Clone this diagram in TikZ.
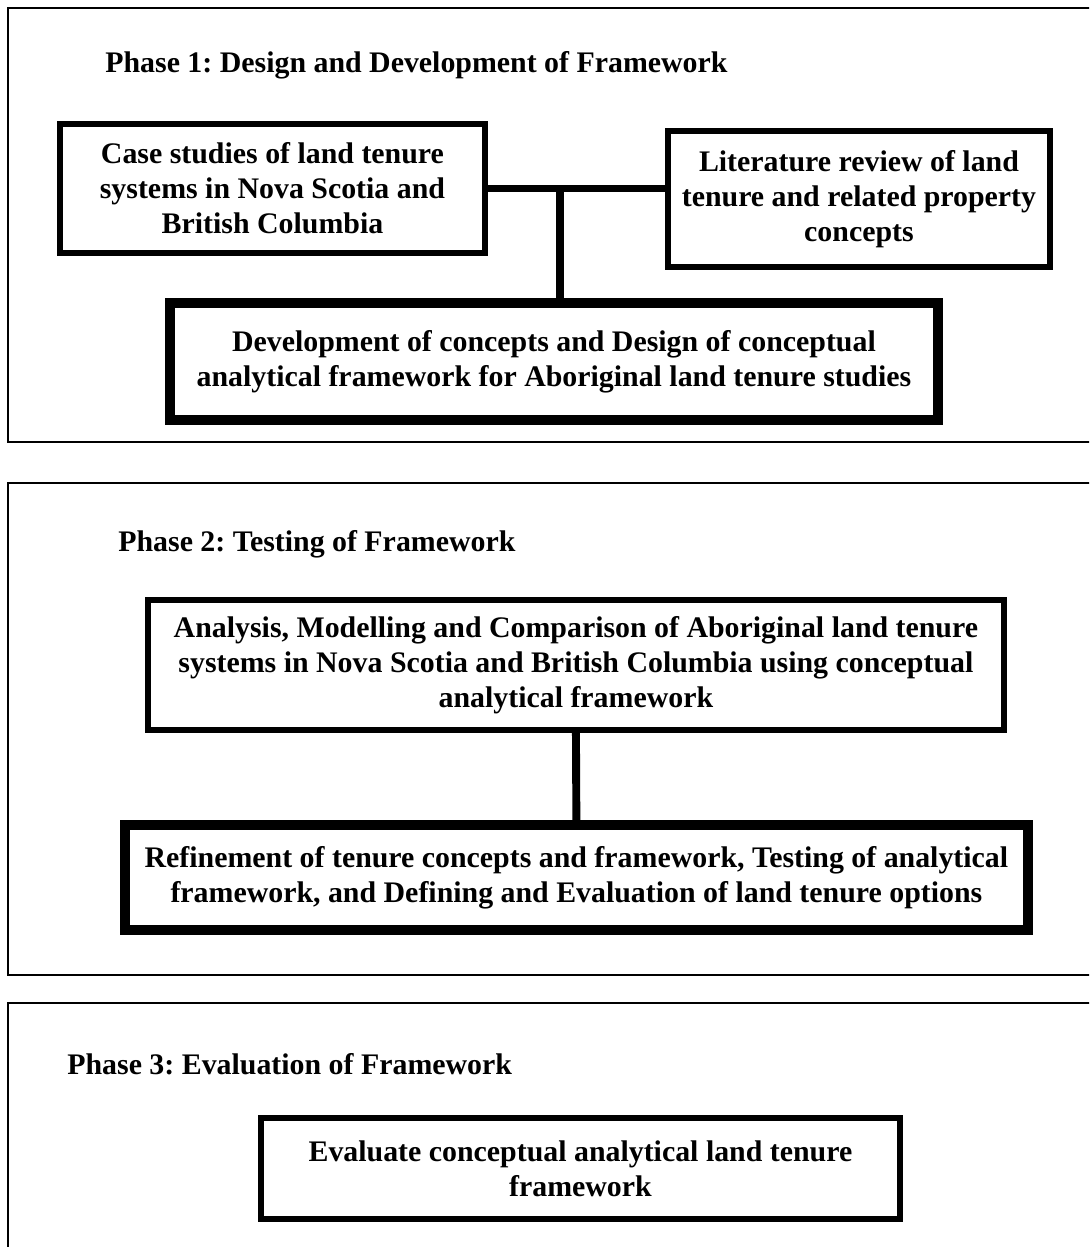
\documentclass[tikz,border=0pt]{standalone}
\usepackage{fontspec}
\setmainfont{Liberation Serif}
\frenchspacing
\usetikzlibrary{positioning,calc}

\tikzset{
  phase/.style={draw, line width=1.1pt},
  stage/.style={draw, line width=3.4pt, align=center, fill=white, outer sep=0pt, inner sep=0pt,
    font=\bfseries\fontsize{17}{20}\selectfont},
  keystage/.style={stage, line width=5.7pt},
  link/.style={line width=4.5pt},
  title/.style={right, inner sep=0pt, font=\bfseries\fontsize{17}{20}\selectfont}
}

\begin{document}
\begin{tikzpicture}[x=0.02cm,y=-0.02cm]
\useasboundingbox (0,0) rectangle (1089,1247);
\clip (0,0) rectangle (1089,1247);

% phase frames
\draw[phase] (8,8) rectangle (1110,442);
\draw[phase] (8,483) rectangle (1110,975);
\draw[phase] (8,1003) rectangle (1110,1270);

\node[title](title1) at (105,65) {Phase 1: Design and Development of Framework};
\node[title](title2) at (118,544) {Phase 2: Testing of Framework};
\node[title](title3) at (67,1064) {Phase 3: Evaluation of Framework};

% phase 1
\coordinate(O1) at (60,124);
\node[below right=0cm of O1, stage, minimum width=8.5cm, minimum height=2.58cm](cases) {Case studies of land tenure\\systems in Nova Scotia and\\British Columbia};

\coordinate(O1) at (668,131);
\node[below right=0cm of O1, stage, minimum width=7.64cm, minimum height=2.72cm](review) {Literature review of land\\tenure and related property\\concepts};

\coordinate(O1) at (170,303);
\node[below right=0cm of O1, keystage, minimum width=15.36cm, minimum height=2.34cm](design) {Development of concepts and Design of conceptual\\analytical framework for Aboriginal land tenure studies};

\coordinate(join1) at ($(cases.east)!0.41!(cases.east -| review.west)$);
\draw[link] (cases.east) -- (cases.east -| review.west);
\draw[link] (join1) -- (join1 |- design.north);

% phase 2
\coordinate(O1) at (148,600);
\node[below right=0cm of O1, stage, minimum width=17.12cm, minimum height=2.6cm](analysis) {Analysis, Modelling and Comparison of Aboriginal land tenure\\systems in Nova Scotia and British Columbia using conceptual\\analytical framework};

\coordinate(O1) at (125,825);
\node[below right=0cm of O1, keystage, minimum width=18.06cm, minimum height=2.1cm](refine) {Refinement of tenure concepts and framework, Testing of analytical\\framework, and Defining and Evaluation of land tenure options};

\draw[link] (analysis.south) -- (refine.north);

% phase 3
\coordinate(O1) at (261,1118);
\node[below right=0cm of O1, stage, minimum width=12.78cm, minimum height=2.02cm](evaluate) {Evaluate conceptual analytical land tenure\\framework};

\end{tikzpicture}
\end{document}
